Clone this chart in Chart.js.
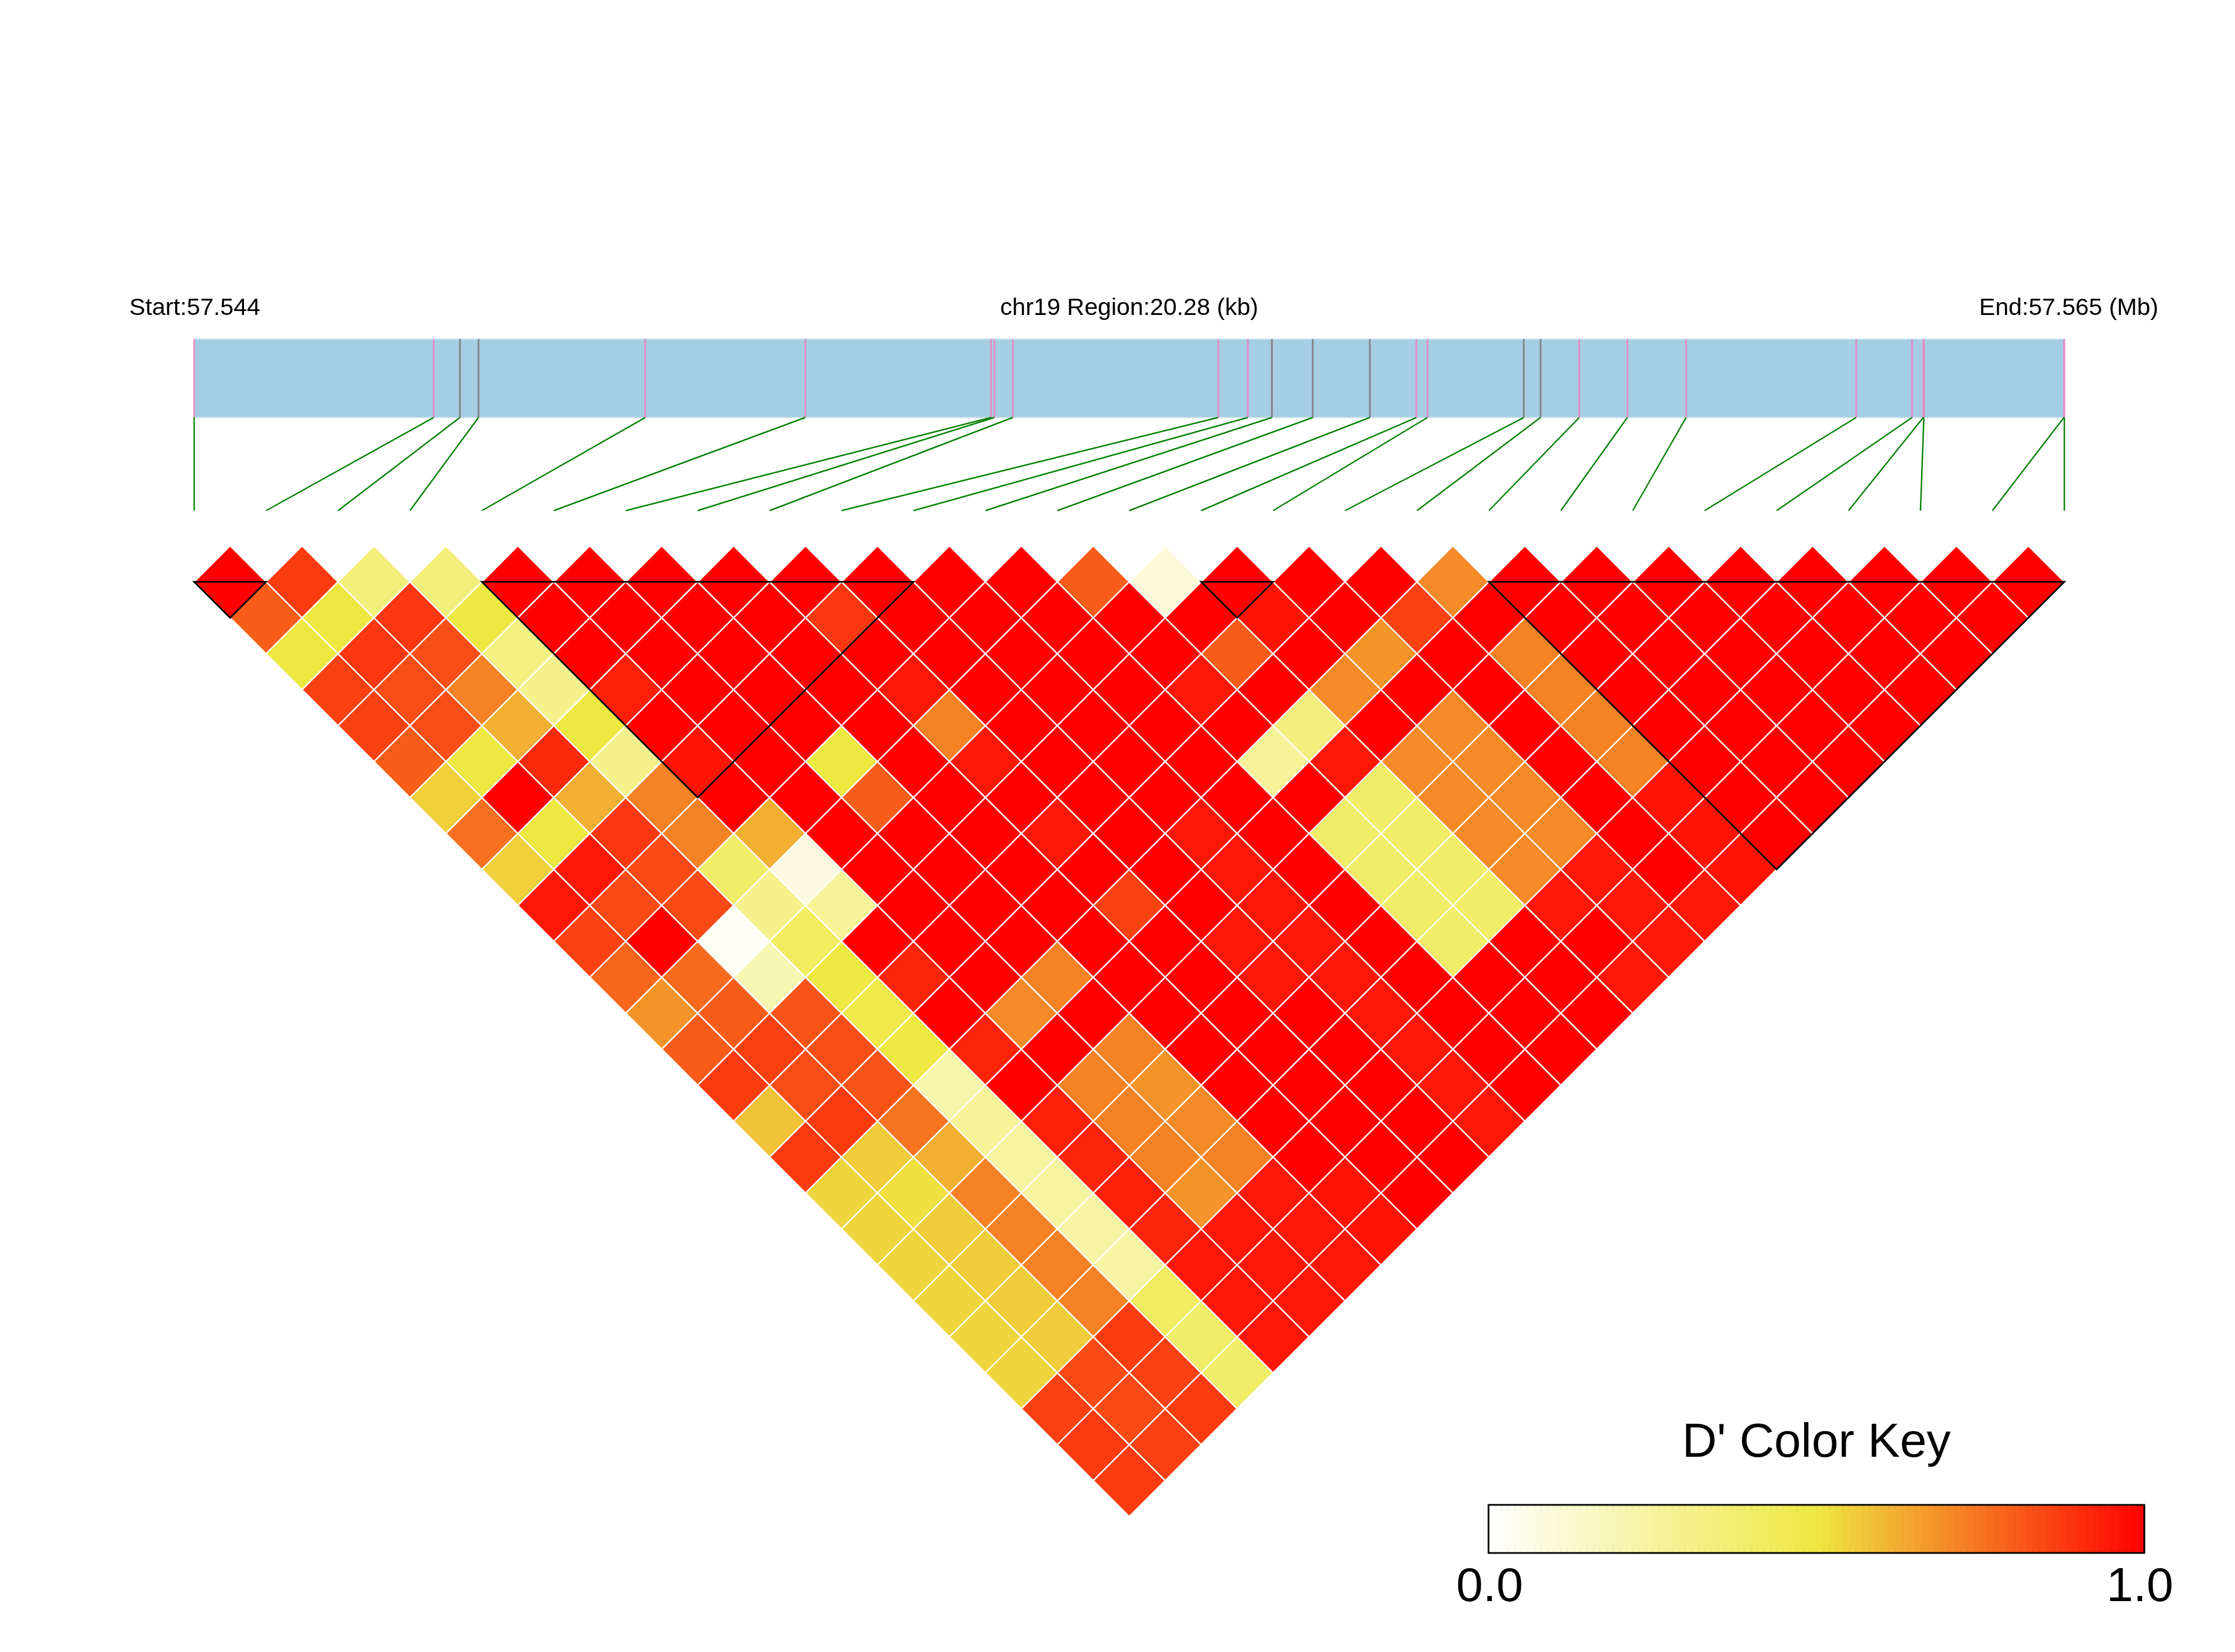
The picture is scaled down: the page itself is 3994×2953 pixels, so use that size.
<!DOCTYPE html>
<html>
<head>
<meta charset="utf-8">
<title>chr19 LD heatmap</title>
<script src="https://cdn.jsdelivr.net/npm/chart.js@4.4.1/dist/chart.umd.min.js"></script>
<style>
  html, body { margin: 0; padding: 0; background: #fff; }
  #wrap { width: 3994px; height: 2953px; }
</style>
</head>
<body>
<div id="wrap"><canvas id="ld" width="3994" height="2953"></canvas></div>
<script>
// SNP positions in bp from the region start
const snpPos = [0, 2597, 2882, 3083, 4891, 6627, 8641, 8678, 8878, 11105, 11426, 11687, 12130, 12749,
  13253, 13374, 14418, 14600, 15019, 15541, 16178, 18023, 18629, 18751, 18757, 20276, 20280];
const regionLength = 20280;
// 1 = grey tick in the bar, 0 = pink tick
const snpGrey = [0, 0, 1, 1, 0, 0, 0, 0, 0, 0, 0, 1, 1, 1, 0, 0, 1, 1, 0, 0, 0, 0, 0, 0, 0, 0, 0];

// LD blocks (first SNP, last SNP)
const blockStart = [0, 4, 14, 18];
const blockEnd = [1, 10, 15, 26];

// D' values: row i holds the pairs (i, i+1) ... (i, 26)
const dPrime = [
  [1.00, 0.80, 0.50, 0.86, 0.86, 0.80, 0.55, 0.76, 0.55, 0.95, 0.86, 0.78, 0.68, 0.80, 0.87, 0.58, 0.87, 0.54, 0.54, 0.54, 0.54, 0.54, 0.54, 0.86, 0.87, 0.87],
  [0.87, 0.50, 0.88, 0.83, 0.83, 0.50, 1.00, 0.50, 0.95, 0.84, 1.00, 0.77, 0.80, 0.86, 0.83, 0.87, 0.56, 0.52, 0.56, 0.56, 0.56, 0.56, 0.84, 0.84, 0.86],
  [0.35, 0.88, 0.83, 0.72, 0.62, 0.91, 0.62, 0.88, 0.84, 0.84, 0.03, 0.20, 0.82, 0.83, 0.82, 0.75, 0.62, 0.72, 0.72, 0.72, 0.72, 0.87, 0.86, 0.87],
  [0.35, 0.50, 0.33, 0.30, 0.50, 0.30, 0.72, 0.72, 0.40, 0.30, 0.42, 0.50, 0.48, 0.50, 0.22, 0.27, 0.25, 0.25, 0.24, 0.24, 0.42, 0.40, 0.40],
  [1.00, 1.00, 1.00, 0.93, 1.00, 0.96, 1.00, 0.62, 0.08, 0.27, 1.00, 0.92, 1.00, 0.92, 1.00, 0.93, 0.92, 0.93, 0.92, 0.95, 0.95, 0.95],
  [1.00, 1.00, 1.00, 1.00, 1.00, 1.00, 1.00, 1.00, 1.00, 1.00, 1.00, 1.00, 0.70, 1.00, 0.72, 0.72, 0.72, 0.68, 0.95, 0.95, 0.95],
  [1.00, 1.00, 1.00, 1.00, 1.00, 0.50, 0.80, 1.00, 1.00, 1.00, 1.00, 0.72, 1.00, 0.72, 0.68, 0.70, 0.72, 0.95, 0.95, 0.95],
  [1.00, 1.00, 1.00, 1.00, 1.00, 1.00, 1.00, 1.00, 1.00, 1.00, 1.00, 1.00, 1.00, 1.00, 1.00, 1.00, 1.00, 0.96, 0.96],
  [1.00, 0.88, 1.00, 0.95, 0.72, 0.95, 1.00, 0.95, 1.00, 0.86, 1.00, 1.00, 1.00, 1.00, 1.00, 1.00, 1.00, 1.00],
  [1.00, 1.00, 1.00, 1.00, 1.00, 1.00, 1.00, 1.00, 1.00, 1.00, 0.95, 0.95, 1.00, 1.00, 1.00, 1.00, 1.00],
  [1.00, 1.00, 1.00, 1.00, 1.00, 1.00, 1.00, 0.95, 0.95, 0.95, 0.95, 0.95, 0.95, 0.95, 0.95, 0.95],
  [1.00, 1.00, 1.00, 1.00, 1.00, 1.00, 1.00, 1.00, 1.00, 1.00, 1.00, 1.00, 1.00, 1.00, 1.00],
  [0.80, 1.00, 1.00, 0.95, 1.00, 0.27, 1.00, 0.40, 0.40, 0.40, 0.40, 1.00, 1.00, 1.00],
  [0.10, 1.00, 0.80, 1.00, 0.34, 0.95, 0.40, 0.40, 0.40, 0.40, 1.00, 1.00, 1.00],
  [1.00, 0.96, 1.00, 0.70, 1.00, 0.70, 0.70, 0.70, 0.70, 0.95, 1.00, 0.95],
  [1.00, 1.00, 0.68, 1.00, 0.70, 0.70, 0.70, 0.70, 0.95, 0.95, 0.95],
  [1.00, 0.86, 1.00, 1.00, 1.00, 1.00, 1.00, 1.00, 1.00, 0.95],
  [0.70, 1.00, 0.72, 0.72, 0.72, 0.72, 0.96, 0.96, 0.96],
  [1.00, 1.00, 1.00, 1.00, 1.00, 1.00, 1.00, 1.00],
  [1.00, 1.00, 1.00, 1.00, 1.00, 1.00, 1.00],
  [1.00, 1.00, 1.00, 1.00, 1.00, 1.00],
  [1.00, 1.00, 1.00, 1.00, 1.00],
  [1.00, 1.00, 1.00, 1.00],
  [1.00, 1.00, 1.00],
  [1.00, 1.00],
  [1.00]
];

const headerLabels = ['Start:57.544', 'chr19 Region:20.28 (kb)', 'End:57.565 (Mb)'];
const keyTitle = "D' Color Key";
const keyTicks = ['0.0', '1.0'];

// white -> yellow -> red, same ramp as the colour key
const rampLow = [255, 255, 255];
const rampMid = [238, 232, 66];
const rampHigh = [255, 0, 0];

function dColor(v) {
  let a = rampLow, b = rampMid, t = v / 0.5;
  if (v > 0.5) { a = rampMid; b = rampHigh; t = (v - 0.5) / 0.5; }
  const c = a.map((x, k) => Math.round(x + (b[k] - x) * t));
  return 'rgb(' + c[0] + ',' + c[1] + ',' + c[2] + ')';
}

// one point per SNP pair: x = i + j (half SNP steps), y = j - i (row)
const cells = [];
dPrime.forEach((row, i) => {
  row.forEach((v, k) => {
    const j = i + 1 + k;
    cells.push({ x: i + j, y: j - i, v: v });
  });
});

// page layout in pixels
const W = 3994, H = 2953;
const LEFT = 347, RIGHT = 3689, ROW1 = 1040;
const UNIT = (RIGHT - LEFT) / 52;   // pixels per half SNP step

// vertical positions (in row units) of the things above the triangle
const BAR_TOP = -5.75, BAR_BOTTOM = -3.57, LINK_END = -0.98, HEADER_BASE = -6.42;

const FONT = '"Liberation Sans", Arial, sans-serif';

const decorations = {
  id: 'decorations',
  beforeDatasetsDraw(chart) {
    const ctx = chart.ctx;
    const sx = chart.scales.x, sy = chart.scales.y;
    const px = v => sx.getPixelForValue(v);
    const py = v => sy.getPixelForValue(v);
    ctx.save();

    // header texts
    ctx.fillStyle = '#000';
    ctx.font = '43px ' + FONT;
    ctx.textBaseline = 'alphabetic';
    ctx.textAlign = 'left';
    ctx.fillText(headerLabels[0], px(0) - 116, py(HEADER_BASE));
    ctx.textAlign = 'center';
    ctx.fillText(headerLabels[1], px(26), py(HEADER_BASE));
    ctx.textAlign = 'right';
    ctx.fillText(headerLabels[2], px(52) + 168, py(HEADER_BASE));

    // gene bar
    const bx0 = px(0), bx1 = px(52), by0 = py(BAR_TOP), by1 = py(BAR_BOTTOM);
    ctx.fillStyle = '#a6cee3';
    ctx.fillRect(bx0, by0, bx1 - bx0, by1 - by0);
    ctx.strokeStyle = '#c8e0ee';
    ctx.lineWidth = 2;
    ctx.strokeRect(bx0, by0, bx1 - bx0, by1 - by0);

    // SNP ticks in the bar and links down to the matrix
    ctx.lineWidth = 3;
    snpPos.forEach((p, k) => {
      const xb = px(52 * p / regionLength);
      ctx.strokeStyle = snpGrey[k] ? '#808080' : '#e78ac3';
      ctx.beginPath();
      ctx.moveTo(xb, by0);
      ctx.lineTo(xb, by1);
      ctx.stroke();
    });
    ctx.strokeStyle = '#008000';
    ctx.lineWidth = 2.5;
    snpPos.forEach((p, k) => {
      ctx.beginPath();
      ctx.moveTo(px(52 * p / regionLength), by1);
      ctx.lineTo(px(2 * k), py(LINK_END));
      ctx.stroke();
    });
    ctx.restore();
  },
  afterDatasetsDraw(chart) {
    const ctx = chart.ctx;
    const sx = chart.scales.x, sy = chart.scales.y;
    const px = v => sx.getPixelForValue(v);
    const py = v => sy.getPixelForValue(v);
    ctx.save();

    // LD block outlines
    ctx.strokeStyle = '#000';
    ctx.lineWidth = 3;
    ctx.lineJoin = 'miter';
    blockStart.forEach((a, k) => {
      const b = blockEnd[k];
      ctx.beginPath();
      ctx.moveTo(px(2 * a), py(1));
      ctx.lineTo(px(2 * b), py(1));
      ctx.lineTo(px(a + b), py(1 + b - a));
      ctx.closePath();
      ctx.stroke();
    });

    // colour key
    const kx0 = 2660, kx1 = 3832, ky0 = 2690, ky1 = 2776;
    const steps = 100;
    const sw = (kx1 - kx0) / steps;
    for (let s = 0; s < steps; s++) {
      ctx.fillStyle = dColor((s + 0.5) / steps);
      ctx.fillRect(kx0 + s * sw, ky0, sw + 0.6, ky1 - ky0);
    }
    ctx.strokeStyle = 'rgba(0,0,0,0.08)';
    ctx.lineWidth = 1;
    for (let s = 1; s < steps; s++) {
      ctx.beginPath();
      ctx.moveTo(kx0 + s * sw, ky0);
      ctx.lineTo(kx0 + s * sw, ky0 + 10);
      ctx.moveTo(kx0 + s * sw, ky1 - 10);
      ctx.lineTo(kx0 + s * sw, ky1);
      ctx.stroke();
    }
    ctx.strokeStyle = '#000';
    ctx.lineWidth = 3;
    ctx.strokeRect(kx0, ky0, kx1 - kx0, ky1 - ky0);

    ctx.fillStyle = '#000';
    ctx.textBaseline = 'alphabetic';
    ctx.textAlign = 'center';
    ctx.font = '86px ' + FONT;
    ctx.fillText(keyTitle, (kx0 + kx1) / 2, 2604);
    ctx.fillText(keyTicks[0], kx0 + 2, 2862);
    ctx.fillText(keyTicks[1], kx1 - 8, 2862);
    ctx.restore();
  }
};

new Chart(document.getElementById('ld'), {
  type: 'scatter',
  data: {
    datasets: [{
      data: cells,
      pointStyle: 'rectRot',
      pointRadius: (ctx) => {
        const s = ctx.chart.scales.x;
        return s ? s.getPixelForValue(1) - s.getPixelForValue(0) : UNIT;
      },
      pointHoverRadius: (ctx) => {
        const s = ctx.chart.scales.x;
        return s ? s.getPixelForValue(1) - s.getPixelForValue(0) : UNIT;
      },
      pointBackgroundColor: (ctx) => ctx.raw ? dColor(ctx.raw.v) : '#ff0000',
      pointBorderColor: '#ffffff',
      pointBorderWidth: 2.5,
      clip: false
    }]
  },
  options: {
    responsive: false,
    animation: false,
    events: [],
    layout: { padding: 0 },
    scales: {
      x: { type: 'linear', display: false, min: -LEFT / UNIT, max: (W - LEFT) / UNIT },
      y: { type: 'linear', display: false, reverse: true, min: 1 - ROW1 / UNIT, max: 1 + (H - ROW1) / UNIT }
    },
    plugins: {
      legend: { display: false },
      tooltip: { enabled: false }
    }
  },
  plugins: [decorations]
});
</script>
</body>
</html>
